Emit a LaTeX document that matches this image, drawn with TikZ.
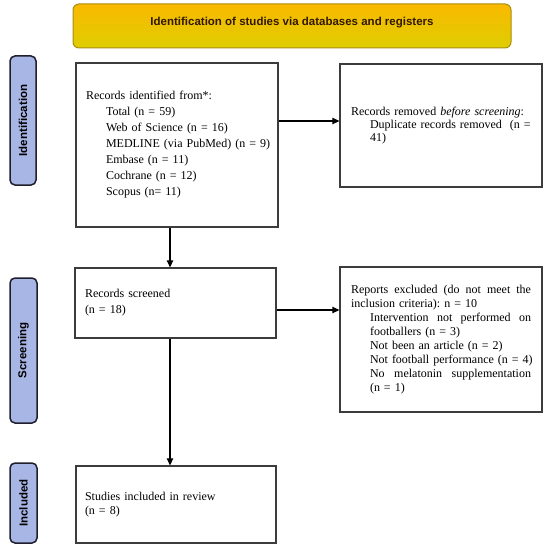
\documentclass[tikz,border=0pt]{standalone}
\usepackage{fontspec}
\setmainfont{Liberation Serif}
\newfontfamily\sansbf{Liberation Sans}
\usetikzlibrary{arrows.meta,shapes.misc}
\frenchspacing
\definecolor{sidefill}{RGB}{168,182,230}
\definecolor{sideline}{RGB}{30,30,45}
\definecolor{boxline}{RGB}{60,60,60}
\definecolor{bantop}{RGB}{250,185,0}
\definecolor{banbot}{RGB}{222,206,0}
\definecolor{banline}{RGB}{170,140,20}
\definecolor{bantext}{RGB}{50,25,0}
\tikzset{
  stagebox/.style={draw=boxline, line width=1.3pt, fill=white, inner sep=0pt},
  sidelabel/.style={draw=sideline, line width=1.5pt, fill=sidefill, rounded corners=5pt,
    rotate=90, font=\sansbf\bfseries\fontsize{11.5}{12}\selectfont, inner sep=0pt},
  arr/.style={line width=1.2pt, -{Triangle[width=6.5pt,length=7pt]}},
}
\begin{document}
\begin{tikzpicture}[x=1pt,y=-1pt]
\useasboundingbox (0,0) rectangle (550,551);
% banner
\node[draw=banline, line width=1pt, rounded corners=6pt, top color=bantop, bottom color=banbot,
  minimum width=438pt, minimum height=44pt] (banner) at (292,26) {};
\node[font=\sansbf\bfseries\fontsize{11.5}{12}\selectfont, text=bantext] (bannertext) at (292,22.5)
  {Identification of studies via databases and registers};
% side labels
\node[sidelabel, minimum width=129pt, minimum height=26pt] (sid) at (23,120.5) {Identification};
\node[sidelabel, minimum width=145pt, minimum height=27pt] (sscr) at (23.5,350.5) {Screening};
\node[sidelabel, minimum width=80pt, minimum height=27pt] (sinc) at (23.5,503) {Included};
% boxes
\node[stagebox, minimum width=202pt, minimum height=164pt, text width=182pt, align=left,
  font=\fontsize{12}{16}\selectfont] (ident) at (177,145)
  {Records identified from*:\\
   \hspace*{20pt}Total (n = 59)\\
   \hspace*{20pt}Web of Science (n = 16)\\
   \hspace*{20pt}\mbox{MEDLINE (via PubMed) (n = 9)}\\
   \hspace*{20pt}Embase (n = 11)\\
   \hspace*{20pt}Cochrane (n = 12)\\
   \hspace*{20pt}Scopus (n= 11)};
\node[stagebox, minimum width=202pt, minimum height=123pt, text width=180pt, align=left,
  font=\fontsize{12}{13.4}\selectfont] (removed) at (441,125.5)
  {\mbox{Records removed \textit{before screening}:}\\
   \hspace*{19pt}\mbox{Duplicate records removed~~(n =}\\
   \hspace*{19pt}41)};
\node[stagebox, minimum width=201pt, minimum height=70pt, text width=181pt, align=left,
  font=\fontsize{12}{16}\selectfont] (screened) at (175.5,303)
  {Records screened\\(n = 18)};
\node[stagebox, minimum width=202pt, minimum height=145pt, text width=180pt, align=left,
  font=\fontsize{12}{13.9}\selectfont] (excluded) at (441,339.5)
  {\hbox to 180pt{Reports\hfill excluded\hfill (do\hfill not\hfill meet\hfill the}\\
   \mbox{inclusion criteria): n = 10}\\
   \hspace*{19pt}\hbox to 161pt{Intervention\hfill not\hfill performed\hfill on}\\
   \hspace*{19pt}\mbox{footballers (n = 3)}\\
   \hspace*{19pt}\mbox{Not been an article (n = 2)}\\
   \hspace*{19pt}\mbox{Not football performance (n = 4)}\\
   \hspace*{19pt}\hbox to 161pt{No\hfill melatonin\hfill supplementation}\\
   \hspace*{19pt}(n = 1)};
\node[stagebox, minimum width=200pt, minimum height=77pt, text width=182pt, align=left,
  font=\fontsize{12}{14}\selectfont] (included) at (176,504.5)
  {Studies included in review\\(n = 8)};
% connector guides
\coordinate (ya) at (0,121);
\coordinate (yb) at (0,310);
\coordinate (xv) at (170,0);
\draw[arr] (ident.east |- ya) -- (removed.west |- ya);
\draw[arr] (screened.east |- yb) -- (excluded.west |- yb);
\draw[arr] (ident.south -| xv) -- (screened.north -| xv);
\draw[arr] (screened.south -| xv) -- (included.north -| xv);
\end{tikzpicture}
\end{document}
